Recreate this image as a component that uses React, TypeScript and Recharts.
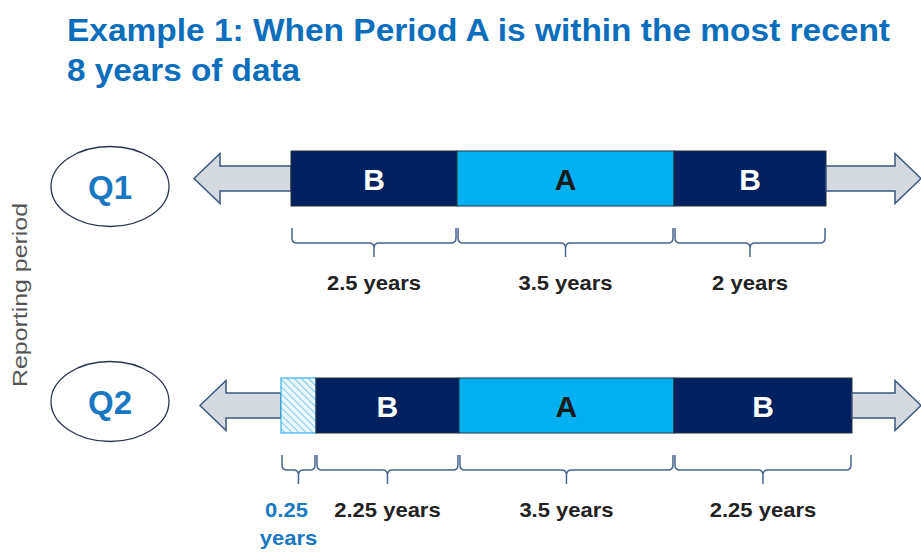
import { BarChart, Bar, XAxis, YAxis } from 'recharts'

// rows of the timeline
const rows = ['Q1', 'Q2']

// segment lengths, in years as drawn
const gap = [0.135, 0.225]
const before = [1.453, 1.213]
const partial = [0, 0.524]
const earlyB = [2.487, 2.142]
const periodA = [3.251, 3.221]
const lateB = [2.277, 2.667]
const after = [1.513, 1.213]

// brace captions
const partialText = ['', '0.25 years']
const earlyBText = ['2.5 years', '2.25 years']
const periodAText = ['3.5 years', '3.5 years']
const lateBText = ['2 years', '2.25 years']

const data = rows.map((row, i) => ({
  row,
  gap: gap[i],
  before: before[i],
  partial: partial[i],
  earlyB: earlyB[i],
  periodA: periodA[i],
  lateB: lateB[i],
  after: after[i],
  partialText: partialText[i],
  earlyBText: earlyBText[i],
  periodAText: periodAText[i],
  lateBText: lateBText[i],
}))

const FONT = '"Liberation Sans", Arial, Helvetica, sans-serif'
const NAVY = '#00205f'
const CYAN = '#00b0f0'
const BRACE = '#4a6590'
const BLUE = '#1a78c2'

function Brace({ x0, x1, top }: any) {
  const mid = top + 15
  const tip = mid + 14
  const xc = (x0 + x1) / 2
  const r = 5
  const d =
    `M${x0},${top} L${x0},${mid - r} Q${x0},${mid} ${x0 + r},${mid} L${xc - r},${mid} ` +
    `Q${xc},${mid} ${xc},${mid + r} L${xc},${tip} M${xc},${mid + r} Q${xc},${mid} ${xc + r},${mid} ` +
    `L${x1 - r},${mid} Q${x1},${mid} ${x1},${mid - r} L${x1},${top}`
  return <path d={d} fill="none" stroke={BRACE} strokeWidth={1.5} />
}

function Wide({ x, y, size, color, children }: any) {
  return (
    <text
      transform={`translate(${x},${y}) scale(1.1,1)`}
      textAnchor="middle"
      fontSize={size}
      fontWeight="bold"
      fill={color}
      fontFamily={FONT}
    >
      {children}
    </text>
  )
}

const segment = (fill: string, letter: string, letterFill: string, textKey: string) => (p: any) => {
  const { x, y, width, height, payload } = p
  if (!width) return <g />
  const bottom = y + height
  return (
    <g>
      <rect x={x} y={y} width={width} height={height} fill={fill} stroke="#26313d" strokeWidth={1} />
      <text
        x={x + width / 2}
        y={y + height / 2 + 11}
        textAnchor="middle"
        fontSize={30}
        fontWeight="bold"
        fill={letterFill}
        fontFamily={FONT}
      >
        {letter}
      </text>
      <Brace x0={x + 1} x1={x + width - 1} top={bottom + 22} />
      <Wide x={x + width / 2} y={bottom + 84} size={20} color="#222">
        {payload[textKey]}
      </Wide>
    </g>
  )
}

const partialShape = (p: any) => {
  const { x, y, width, height, payload } = p
  if (!width) return <g />
  const bottom = y + height
  const words = String(payload.partialText).split(' ')
  return (
    <g>
      <defs>
        <pattern id="hatch" patternUnits="userSpaceOnUse" width={5} height={5} patternTransform="rotate(-45)">
          <line x1={0} y1={0} x2={0} y2={5} stroke="#3bb4e8" strokeWidth={1.3} />
        </pattern>
      </defs>
      <rect x={x} y={y} width={width} height={height} fill="#eaf7fd" />
      <rect x={x} y={y} width={width} height={height} fill="url(#hatch)" stroke="#3bb4e8" strokeWidth={1.2} />
      <Brace x0={x + 1} x1={x + width - 1} top={bottom + 22} />
      <Wide x={x + width / 2 - 12} y={bottom + 84} size={20} color={BLUE}>
        {words[0]}
      </Wide>
      <Wide x={x + width / 2 - 10} y={bottom + 112} size={20} color={BLUE}>
        {words[1]}
      </Wide>
    </g>
  )
}

const arrow = (dir: 'left' | 'right') => (p: any) => {
  const { x, y, width, height } = p
  if (!width) return <g />
  const cy = y + height / 2
  const head = 26
  const hh = 25
  const sh = 12.5
  const tip = dir === 'left' ? x : x + width
  const base = dir === 'left' ? x + head : x + width - head
  const end = dir === 'left' ? x + width : x
  const pts = [
    [tip, cy],
    [base, cy - hh],
    [base, cy - sh],
    [end, cy - sh],
    [end, cy + sh],
    [base, cy + sh],
    [base, cy + hh],
  ]
    .map((q) => q.join(','))
    .join(' ')
  return <polygon points={pts} fill="#d5d9e0" stroke="#3b5680" strokeWidth={1.5} strokeLinejoin="miter" />
}

const ovalShift: Record<string, number> = { Q1: 8, Q2: -4 }

function OvalTick(props: any) {
  const { y, payload } = props
  const cy = y + (ovalShift[payload.value] ?? 0)
  return (
    <g>
      <ellipse cx={110} cy={cy} rx={59} ry={40} fill="#fff" stroke="#2b3650" strokeWidth={1.3} />
      <text x={110} y={cy + 12} textAnchor="middle" fontSize={33} fontWeight="bold" fill={BLUE} fontFamily={FONT}>
        {payload.value}
      </text>
    </g>
  )
}

function SideLabel(props: any) {
  const vb = props.viewBox || {}
  const cy = (vb.y ?? 65) + (vb.height ?? 454) / 2 + 3
  return (
    <text
      x={27}
      y={cy}
      transform={`rotate(-90, 27, ${cy})`}
      textAnchor="middle"
      fontSize={20}
      fill="#555"
      fontFamily={FONT}
      textLength={184}
      lengthAdjust="spacingAndGlyphs"
    >
      Reporting period
    </text>
  )
}

export default function App() {
  return (
    <div style={{ position: 'absolute', left: 0, top: 0, width: 921, height: 552, background: '#fff' }}>
      <svg width={921} height={100} style={{ position: 'absolute', left: 0, top: 0 }}>
        <text x={67} y={41} fontSize={31} fontWeight="bold" fill="#0a6ebd" fontFamily={FONT} textLength={823} lengthAdjust="spacingAndGlyphs">
          Example 1: When Period A is within the most recent
        </text>
        <text x={67} y={81} fontSize={31} fontWeight="bold" fill="#0a6ebd" fontFamily={FONT} textLength={233} lengthAdjust="spacingAndGlyphs">
          8 years of data
        </text>
      </svg>
      <div style={{ position: 'absolute', left: 0, top: 0 }}>
        <BarChart
          width={921}
          height={552}
          data={data}
          layout="vertical"
          margin={{ top: 65, right: 0, bottom: 33, left: 0 }}
          barSize={55}
        >
          <XAxis type="number" domain={[0, 11.026]} hide allowDataOverflow />
          <YAxis
            type="category"
            dataKey="row"
            width={185}
            axisLine={false}
            tickLine={false}
            tick={<OvalTick />}
            label={{ value: 'Reporting period', content: <SideLabel /> }}
          />
          <Bar dataKey="gap" stackId="t" fill="none" isAnimationActive={false} />
          <Bar dataKey="before" stackId="t" shape={arrow('left')} isAnimationActive={false} />
          <Bar dataKey="partial" stackId="t" shape={partialShape} isAnimationActive={false} />
          <Bar dataKey="earlyB" stackId="t" shape={segment(NAVY, 'B', '#fff', 'earlyBText')} isAnimationActive={false} />
          <Bar dataKey="periodA" stackId="t" shape={segment(CYAN, 'A', '#1a1a1a', 'periodAText')} isAnimationActive={false} />
          <Bar dataKey="lateB" stackId="t" shape={segment(NAVY, 'B', '#fff', 'lateBText')} isAnimationActive={false} />
          <Bar dataKey="after" stackId="t" shape={arrow('right')} isAnimationActive={false} />
        </BarChart>
      </div>
    </div>
  )
}
